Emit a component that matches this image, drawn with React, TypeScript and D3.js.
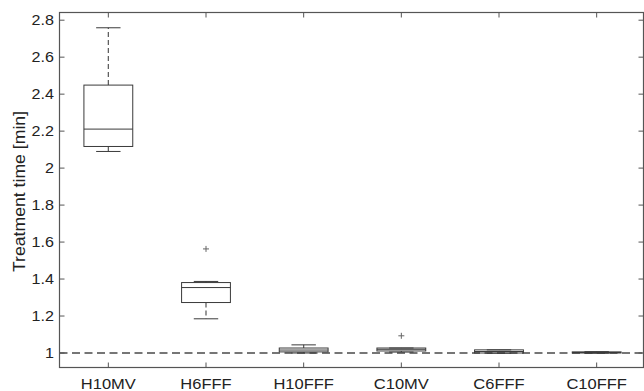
import * as d3 from 'd3';

// box statistics
const categories = ['H10MV', 'H6FFF', 'H10FFF', 'C10MV', 'C6FFF', 'C10FFF'];
const whiskerLow = [2.09, 1.185, 1.0, 1.005, 0.999, 0.999];
const q1 = [2.117, 1.273, 1.006, 1.011, 1.0, 1.0];
const median = [2.211, 1.354, 1.016, 1.02, 1.008, 1.003];
const q3 = [2.449, 1.381, 1.027, 1.027, 1.017, 1.006];
const whiskerHigh = [2.759, 1.387, 1.044, 1.027, 1.017, 1.007];
const outliers: [number, number][] = [
  [1, 1.563],
  [3, 1.093],
];
const yTicks = [1, 1.2, 1.4, 1.6, 1.8, 2, 2.2, 2.4, 2.6, 2.8];
const referenceValue = 1;

const W = 644;
const H = 391;
const left = 59.5;
const right = 643.5;
const top = 12.5;
const bottom = 367.5;
const FONT = '"Liberation Sans", Arial, Helvetica, sans-serif';
const LINE = '#3a3a3a';
const AXIS = '#555';

export default function App() {
  const x = d3.scaleLinear().domain([0.5, 6.5]).range([left, 645.5]);
  const y = d3.scaleLinear().domain([0.9216, 2.8416]).range([bottom, top]);
  const halfBox = 0.25;
  const halfCap = 0.125;

  return (
    <svg
      width={W}
      height={H}
      style={{ position: 'absolute', left: 0, top: 0, background: '#fff' }}
      fontFamily={FONT}
    >
      {/* reference line */}
      <line
        x1={left}
        x2={right}
        y1={y(referenceValue)}
        y2={y(referenceValue)}
        stroke="#4a4a4a"
        strokeWidth={1.6}
        strokeDasharray="8,4.5"
      />

      {categories.map((c, i) => {
        const cx = x(i + 1);
        const x0 = x(i + 1 - halfBox);
        const x1 = x(i + 1 + halfBox);
        const c0 = x(i + 1 - halfCap);
        const c1 = x(i + 1 + halfCap);
        return (
          <g key={c} fill="none" stroke={LINE} strokeWidth={1}>
            <line x1={cx} x2={cx} y1={y(q3[i])} y2={y(whiskerHigh[i])} strokeDasharray="5,3" stroke="#555" strokeWidth={1.2} />
            <line x1={cx} x2={cx} y1={y(q1[i])} y2={y(whiskerLow[i])} strokeDasharray="5,3" stroke="#555" strokeWidth={1.2} />
            <line x1={c0} x2={c1} y1={y(whiskerHigh[i])} y2={y(whiskerHigh[i])} />
            <line x1={c0} x2={c1} y1={y(whiskerLow[i])} y2={y(whiskerLow[i])} />
            <rect x={x0} y={y(q3[i])} width={x1 - x0} height={y(q1[i]) - y(q3[i])} fill="none" />
            <line x1={x0} x2={x1} y1={y(median[i])} y2={y(median[i])} />
          </g>
        );
      })}

      {outliers.map(([ci, v], k) => {
        const px = x(ci + 1);
        const py = y(v);
        return (
          <g key={k} stroke="#666" strokeWidth={1}>
            <line x1={px - 3} x2={px + 3} y1={py} y2={py} />
            <line x1={px} x2={px} y1={py - 3} y2={py + 3} />
          </g>
        );
      })}

      {/* axes frame */}
      <rect x={left} y={top} width={right - left} height={bottom - top} fill="none" stroke={AXIS} strokeWidth={1.2} />

      {yTicks.map((t) => (
        <g key={t} stroke={AXIS} strokeWidth={1}>
          <line x1={left} x2={left + 5} y1={y(t)} y2={y(t)} />
          <line x1={right} x2={right - 5} y1={y(t)} y2={y(t)} />
        </g>
      ))}
      {categories.map((c, i) => (
        <g key={c} stroke={AXIS} strokeWidth={1}>
          <line x1={x(i + 1)} x2={x(i + 1)} y1={bottom} y2={bottom - 5} />
          <line x1={x(i + 1)} x2={x(i + 1)} y1={top} y2={top + 5} />
        </g>
      ))}

      {yTicks.map((t) => (
        <text
          key={t}
          transform={`translate(54, ${y(t)}) scale(1.15, 1)`}
          textAnchor="end"
          dy="0.36em"
          fontSize={14}
          fill="#222"
        >
          {d3.format('~g')(t)}
        </text>
      ))}
      {categories.map((c, i) => (
        <text
          key={c}
          transform={`translate(${x(i + 1)}, 389.3) scale(1.1, 1)`}
          textAnchor="middle"
          fontSize={15}
          fill="#222"
        >
          {c}
        </text>
      ))}
      <text
        transform="translate(25, 191.5) rotate(-90) scale(1.05, 1)"
        textAnchor="middle"
        fontSize={16.8}
        fill="#222"
      >
        Treatment time [min]
      </text>
    </svg>
  );
}
